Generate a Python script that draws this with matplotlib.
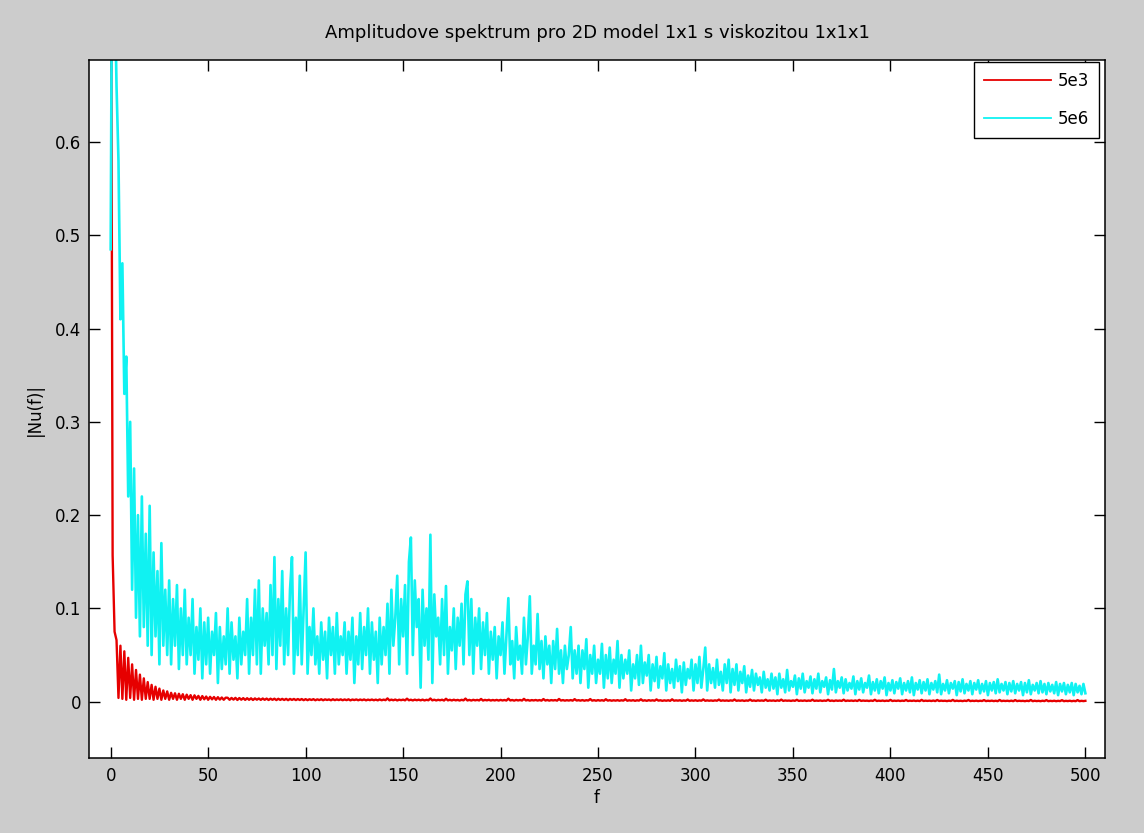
import numpy as np
import matplotlib
matplotlib.use("Agg")
import matplotlib.pyplot as plt

# amplitude spectra, one value per unit of f (0..500)
ra_5e3 = [
    1.0, 0.157, 0.075, 0.066, 0.004, 0.06, 0.003, 0.054, 0.002, 0.047, 0.004, 0.04, 0.002, 0.034, 0.003, 0.029, 0.002, 0.025, 0.003, 0.021,
    0.003, 0.018, 0.002, 0.016, 0.003, 0.014, 0.002, 0.012, 0.003, 0.011, 0.002, 0.0095, 0.003, 0.009, 0.002, 0.0085, 0.003, 0.008, 0.002, 0.0075,
    0.003, 0.007, 0.002, 0.0068, 0.003, 0.0062, 0.002, 0.006, 0.0025, 0.0055, 0.002, 0.0052, 0.0025, 0.005, 0.002, 0.0048, 0.0022, 0.0045, 0.002, 0.0043,
    0.0042, 0.002, 0.004, 0.0022, 0.0041, 0.0018, 0.0039, 0.0021, 0.0038, 0.0019, 0.0037, 0.002, 0.0036, 0.0018, 0.0035, 0.0021, 0.0034, 0.0019, 0.0034, 0.002,
    0.0033, 0.0018, 0.0032, 0.002, 0.0032, 0.0017, 0.0031, 0.0019, 0.003, 0.0018, 0.003, 0.0016, 0.0029, 0.0019, 0.0029, 0.0017, 0.0028, 0.0018, 0.0028, 0.0016,
    0.0027, 0.0016, 0.0026, 0.0018, 0.0027, 0.0015, 0.0025, 0.0017, 0.0026, 0.0015, 0.0025, 0.0018, 0.0024, 0.0015, 0.0026, 0.0016, 0.0024, 0.0017, 0.0025, 0.0015,
    0.0024, 0.0016, 0.0025, 0.0014, 0.0023, 0.0017, 0.0024, 0.0015, 0.0023, 0.0016, 0.0024, 0.0014, 0.0022, 0.0016, 0.0023, 0.0015, 0.0022, 0.0014, 0.0024, 0.0015,
    0.0022, 0.0016, 0.0035, 0.0014, 0.0022, 0.0015, 0.0023, 0.0013, 0.0021, 0.0016, 0.0022, 0.0014, 0.0032, 0.0015, 0.0021, 0.0013, 0.0022, 0.0015, 0.0021, 0.0014,
    0.0022, 0.0013, 0.002, 0.0015, 0.0034, 0.0014, 0.0021, 0.0013, 0.002, 0.0015, 0.0021, 0.0012, 0.0031, 0.0014, 0.002, 0.0013, 0.0021, 0.0014, 0.0019, 0.0012,
    0.002, 0.0014, 0.0033, 0.0013, 0.0019, 0.0012, 0.002, 0.0014, 0.0019, 0.0013, 0.0029, 0.0012, 0.0019, 0.0014, 0.002, 0.0012, 0.0018, 0.0013, 0.0019, 0.0012,
    0.0019, 0.0013, 0.0018, 0.0012, 0.0032, 0.0013, 0.0018, 0.0011, 0.0019, 0.0013, 0.0018, 0.0012, 0.003, 0.0013, 0.0018, 0.0011, 0.0017, 0.0013, 0.0018, 0.0012,
    0.0017, 0.0011, 0.0028, 0.0012, 0.0018, 0.0011, 0.0017, 0.0013, 0.0017, 0.0011, 0.0029, 0.0012, 0.0017, 0.0011, 0.0016, 0.0012, 0.0017, 0.0011, 0.0027, 0.0012,
    0.0016, 0.0011, 0.0017, 0.001, 0.0016, 0.0012, 0.0028, 0.0011, 0.0016, 0.001, 0.0017, 0.0011, 0.0016, 0.001, 0.0026, 0.0011, 0.0016, 0.001, 0.0015, 0.0011,
    0.0016, 0.001, 0.0015, 0.0011, 0.0026, 0.001, 0.0015, 0.0011, 0.0016, 0.0009, 0.0015, 0.0011, 0.0025, 0.001, 0.0015, 0.0009, 0.0016, 0.0011, 0.0015, 0.001,
    0.0024, 0.0011, 0.0015, 0.0009, 0.0014, 0.001, 0.0015, 0.0009, 0.0025, 0.001, 0.0014, 0.0011, 0.0015, 0.0009, 0.0014, 0.001, 0.0023, 0.0009, 0.0014, 0.001,
    0.0015, 0.0009, 0.0014, 0.001, 0.0024, 0.0009, 0.0014, 0.001, 0.0013, 0.0009, 0.0014, 0.001, 0.0022, 0.0009, 0.0014, 0.001, 0.0013, 0.0009, 0.0014, 0.001,
    0.0023, 0.0009, 0.0013, 0.001, 0.0014, 0.0008, 0.0013, 0.001, 0.0022, 0.0009, 0.0013, 0.0008, 0.0014, 0.001, 0.0013, 0.0009, 0.0021, 0.0008, 0.0013, 0.001,
    0.0013, 0.0008, 0.0014, 0.0009, 0.0022, 0.0008, 0.0013, 0.001, 0.0012, 0.0008, 0.0013, 0.0009, 0.002, 0.0008, 0.0012, 0.0009, 0.0013, 0.0008, 0.0012, 0.0009,
    0.0021, 0.0008, 0.0012, 0.0009, 0.0013, 0.0008, 0.0012, 0.0009, 0.002, 0.0008, 0.0012, 0.0007, 0.0013, 0.0009, 0.0012, 0.0008, 0.0021, 0.0007, 0.0012, 0.0009,
    0.0012, 0.0008, 0.0013, 0.0007, 0.0019, 0.0008, 0.0012, 0.0009, 0.0011, 0.0007, 0.0012, 0.0008, 0.002, 0.0007, 0.0011, 0.0008, 0.0012, 0.0007, 0.0011, 0.0008,
    0.0019, 0.0007, 0.0011, 0.0008, 0.0012, 0.0007, 0.0011, 0.0008, 0.0018, 0.0007, 0.0011, 0.0008, 0.0012, 0.0007, 0.0011, 0.0006, 0.0019, 0.0007, 0.0011, 0.0008,
    0.0011, 0.0007, 0.0012, 0.0006, 0.0018, 0.0007, 0.0011, 0.0008, 0.001, 0.0006, 0.0011, 0.0007, 0.0019, 0.0006, 0.0011, 0.0007, 0.001, 0.0006, 0.0011, 0.0007,
    0.0018, 0.0006, 0.001, 0.0007, 0.0011, 0.0006, 0.001, 0.0007, 0.0017, 0.0006, 0.001, 0.0007, 0.0011, 0.0006, 0.001, 0.0005, 0.0018, 0.0006, 0.001, 0.0007,
    0.001, 0.0006, 0.0011, 0.0005, 0.0017, 0.0006, 0.001, 0.0007, 0.0009, 0.0005, 0.001, 0.0006, 0.0018, 0.0005, 0.001, 0.0006, 0.0009, 0.0005, 0.001, 0.0006,
    0.0017, 0.0005, 0.0009, 0.0006, 0.001, 0.0005, 0.0009, 0.0006, 0.0016, 0.0005, 0.0009, 0.0006, 0.001, 0.0005, 0.0009, 0.0005, 0.0017, 0.0005, 0.0009, 0.0006,
    0.0009,
]

ra_5e6 = [
    0.485, 0.95, 0.78, 0.66, 0.58, 0.41, 0.47, 0.33, 0.37, 0.22, 0.30, 0.12, 0.25, 0.09, 0.20, 0.07, 0.22, 0.08, 0.18, 0.06,
    0.21, 0.05, 0.16, 0.07, 0.14, 0.04, 0.17, 0.06, 0.12, 0.05, 0.13, 0.04, 0.11, 0.06, 0.125, 0.035, 0.10, 0.05, 0.12, 0.04,
    0.09, 0.05, 0.11, 0.03, 0.08, 0.045, 0.10, 0.025, 0.085, 0.04, 0.09, 0.03, 0.075, 0.05, 0.095, 0.02, 0.08, 0.035, 0.07, 0.04,
    0.10, 0.03, 0.085, 0.045, 0.07, 0.025, 0.09, 0.04, 0.075, 0.05, 0.11, 0.03, 0.09, 0.05, 0.12, 0.04, 0.13, 0.03, 0.10, 0.06,
    0.095, 0.04, 0.125, 0.05, 0.155, 0.035, 0.11, 0.06, 0.14, 0.04, 0.10, 0.05, 0.12, 0.155, 0.03, 0.09, 0.05, 0.135, 0.04, 0.10,
    0.16, 0.03, 0.08, 0.05, 0.10, 0.04, 0.07, 0.03, 0.085, 0.045, 0.075, 0.025, 0.09, 0.05, 0.08, 0.03, 0.095, 0.04, 0.07, 0.05,
    0.085, 0.03, 0.075, 0.045, 0.09, 0.02, 0.07, 0.04, 0.095, 0.035, 0.08, 0.05, 0.10, 0.03, 0.085, 0.045, 0.075, 0.02, 0.09, 0.04,
    0.08, 0.05, 0.105, 0.03, 0.12, 0.06, 0.09, 0.135, 0.04, 0.11, 0.07, 0.125, 0.03, 0.15, 0.176, 0.05, 0.13, 0.08, 0.11, 0.015,
    0.12, 0.06, 0.10, 0.045, 0.179, 0.02, 0.115, 0.07, 0.09, 0.04, 0.11, 0.05, 0.124, 0.03, 0.08, 0.055, 0.10, 0.035, 0.09, 0.06,
    0.105, 0.04, 0.115, 0.129, 0.05, 0.11, 0.03, 0.09, 0.06, 0.10, 0.035, 0.085, 0.05, 0.095, 0.03, 0.075, 0.045, 0.08, 0.025, 0.07,
    0.05, 0.085, 0.03, 0.07, 0.111, 0.04, 0.065, 0.025, 0.08, 0.045, 0.06, 0.03, 0.09, 0.04, 0.07, 0.113, 0.03, 0.06, 0.04, 0.094,
    0.035, 0.065, 0.025, 0.07, 0.04, 0.06, 0.02, 0.065, 0.035, 0.078, 0.03, 0.055, 0.02, 0.06, 0.035, 0.05, 0.08, 0.025, 0.055, 0.03,
    0.06, 0.02, 0.055, 0.035, 0.067, 0.015, 0.05, 0.03, 0.06, 0.02, 0.045, 0.03, 0.062, 0.015, 0.05, 0.025, 0.058, 0.02, 0.045, 0.03,
    0.065, 0.015, 0.05, 0.025, 0.045, 0.03, 0.055, 0.012, 0.04, 0.025, 0.05, 0.018, 0.06, 0.02, 0.042, 0.028, 0.05, 0.012, 0.04, 0.022,
    0.048, 0.015, 0.038, 0.025, 0.052, 0.012, 0.04, 0.02, 0.035, 0.015, 0.045, 0.022, 0.038, 0.01, 0.042, 0.018, 0.035, 0.025, 0.045, 0.012,
    0.04, 0.02, 0.048, 0.015, 0.035, 0.058, 0.012, 0.04, 0.02, 0.036, 0.015, 0.045, 0.018, 0.032, 0.012, 0.04, 0.02, 0.045, 0.01, 0.035,
    0.018, 0.04, 0.012, 0.032, 0.02, 0.038, 0.01, 0.028, 0.016, 0.034, 0.012, 0.03, 0.018, 0.026, 0.01, 0.032, 0.015, 0.024, 0.012, 0.03,
    0.014, 0.026, 0.008, 0.03, 0.015, 0.024, 0.01, 0.034, 0.012, 0.022, 0.016, 0.028, 0.008, 0.025, 0.014, 0.03, 0.01, 0.022, 0.015, 0.027,
    0.009, 0.024, 0.014, 0.03, 0.01, 0.022, 0.016, 0.026, 0.008, 0.023, 0.013, 0.035, 0.01, 0.022, 0.015, 0.026, 0.009, 0.024, 0.012, 0.02,
    0.014, 0.027, 0.008, 0.022, 0.013, 0.025, 0.01, 0.02, 0.015, 0.028, 0.008, 0.021, 0.012, 0.024, 0.009, 0.022, 0.014, 0.026, 0.007, 0.02,
    0.012, 0.023, 0.009, 0.021, 0.014, 0.025, 0.008, 0.02, 0.012, 0.022, 0.01, 0.026, 0.007, 0.02, 0.013, 0.023, 0.009, 0.021, 0.012, 0.024,
    0.008, 0.02, 0.013, 0.022, 0.01, 0.029, 0.008, 0.019, 0.012, 0.023, 0.009, 0.02, 0.014, 0.022, 0.007, 0.021, 0.011, 0.024, 0.009, 0.019,
    0.012, 0.022, 0.008, 0.02, 0.013, 0.023, 0.009, 0.019, 0.011, 0.022, 0.007, 0.02, 0.012, 0.021, 0.009, 0.024, 0.01, 0.019, 0.012, 0.021,
    0.008, 0.02, 0.011, 0.022, 0.009, 0.019, 0.012, 0.021, 0.007, 0.02, 0.01, 0.023, 0.008, 0.018, 0.012, 0.02, 0.009, 0.022, 0.01, 0.019,
    0.008, 0.02, 0.011, 0.018, 0.009, 0.021, 0.007, 0.019, 0.011, 0.02, 0.008, 0.018, 0.01, 0.02, 0.007, 0.019, 0.01, 0.017, 0.008, 0.019,
    0.009,
]

labels = ["5e3", "5e6"]
f = np.arange(len(ra_5e6))

fig = plt.figure(figsize=(11.44, 8.33), dpi=100, facecolor="#cccccc")
ax = fig.add_axes([0.078, 0.0897, 0.8878, 0.8383])

ax.plot(f, ra_5e3, color="#e60000", lw=1.7, label=labels[0])
ax.plot(f, ra_5e6, color="#10f2f2", lw=1.9, label=labels[1])

ax.set_xlim(-11, 510)
ax.set_ylim(-0.0607, 0.688)
ax.set_xticks(np.arange(0, 501, 50))
ax.set_yticks([0, 0.1, 0.2, 0.3, 0.4, 0.5, 0.6])
ax.set_yticklabels(["0", "0.1", "0.2", "0.3", "0.4", "0.5", "0.6"])
ax.tick_params(direction="in", top=True, right=True, length=8, width=1,
               labelsize=12, pad=6)
for s in ax.spines.values():
    s.set_linewidth(1.1)

ax.set_title("Amplitudove spektrum pro 2D model 1x1 s viskozitou 1x1x1",
             fontsize=13, pad=16)
ax.set_xlabel("f", fontsize=12, labelpad=3)
ax.set_ylabel("|Nu(f)|", fontsize=12, labelpad=8)

leg = ax.legend(loc="upper right", bbox_to_anchor=(0.9941, 0.997), borderaxespad=0,
                fontsize=12, handlelength=4, handletextpad=0.4, labelspacing=1.2,
                borderpad=0.6, fancybox=False, framealpha=1, edgecolor="black")
leg.get_frame().set_linewidth(1.0)
for line in leg.get_lines():
    line.set_linewidth(1.3)

fig.savefig("out.png", dpi=100, facecolor=fig.get_facecolor())
